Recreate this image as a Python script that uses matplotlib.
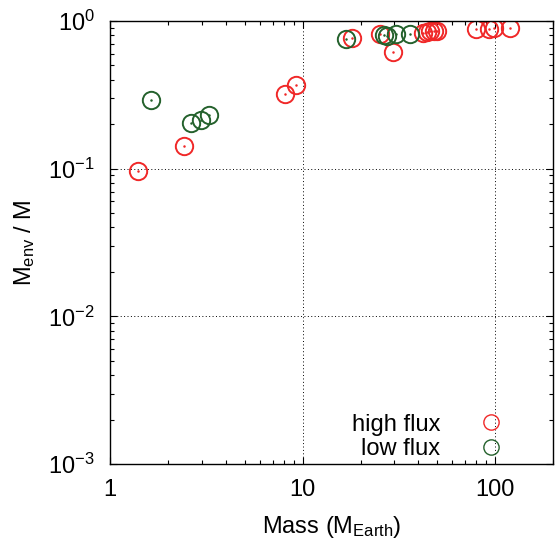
import numpy as np
import matplotlib
matplotlib.use("Agg")
import matplotlib.pyplot as plt
from matplotlib.ticker import LogLocator, FuncFormatter, NullFormatter
from matplotlib.lines import Line2D

plt.rcParams.update({
    "font.family": ["Liberation Sans", "DejaVu Sans"],
    "mathtext.fontset": "custom",
    "mathtext.rm": "Liberation Sans",
    "mathtext.it": "Liberation Sans",
    "font.size": 17,
})

# planet mass (M_Earth) and envelope mass fraction
high_mass = [1.40, 2.41, 8.13, 9.27, 18.0, 25.1, 29.6, 42.4, 44.4, 46.0, 48.3, 50.1,
             79.4, 93.1, 98.9, 119.0]
high_frac = [0.0964, 0.142, 0.319, 0.367, 0.771, 0.817, 0.620, 0.83, 0.845, 0.856,
             0.856, 0.856, 0.879, 0.88, 0.89, 0.90]
low_mass = [1.63, 2.62, 2.95, 3.27, 16.8, 26.4, 27.3, 30.6, 36.3]
low_frac = [0.292, 0.204, 0.213, 0.231, 0.751, 0.81, 0.795, 0.817, 0.82]

RED = "#f02828"
GREEN = "#24612c"

fig = plt.figure(figsize=(5.56, 5.41), dpi=100)
ax = fig.add_axes([0.198, 0.1423, 0.7966, 0.8189])

for m, f, c in [(high_mass, high_frac, RED), (low_mass, low_frac, GREEN)]:
    ax.plot(m, f, ls="none", marker="o", ms=12.5, mfc="none", mec=c, mew=1.4)
    ax.plot(m, f, ls="none", marker="o", ms=1.8, mfc=c, mec=c, mew=0)

ax.set_xscale("log")
ax.set_yscale("log")
ax.set_xlim(1, 200)
ax.set_ylim(1e-3, 1)

ax.xaxis.set_major_formatter(FuncFormatter(lambda v, p: f"{v:g}"))
ax.xaxis.set_minor_formatter(NullFormatter())
ax.yaxis.set_major_locator(LogLocator(base=10, numticks=10))
ax.yaxis.set_minor_locator(LogLocator(base=10, subs=np.arange(2, 10), numticks=10))
ax.yaxis.set_minor_formatter(NullFormatter())

ax.tick_params(which="both", direction="in", top=True, right=True, width=0.8)
ax.tick_params(which="major", length=5, pad=11)
ax.tick_params(which="minor", length=2.8)
for s in ax.spines.values():
    s.set_linewidth(1.0)

for v in [10, 100]:
    ax.axvline(v, color="black", lw=0.7, ls=(0, (1, 2.5)), zorder=0)
for v in [0.1, 0.01]:
    ax.axhline(v, color="black", lw=0.7, ls=(0, (1, 2.5)), zorder=0)

ax.set_xlabel(r"Mass (M$_{\mathrm{Earth}}$)", labelpad=9)
ax.set_ylabel(r"M$_{\mathrm{env}}$ / M", labelpad=8)

handles = [
    Line2D([], [], ls="none", marker="o", ms=11, mfc="none", mec=RED, mew=1.0),
    Line2D([], [], ls="none", marker="o", ms=11, mfc="none", mec=GREEN, mew=1.0),
]
leg = ax.legend(handles, ["high flux", "low flux"], loc="lower right",
                frameon=False, markerfirst=False, handlelength=1.0,
                handletextpad=1.65, labelspacing=0.12,
                bbox_to_anchor=(0.935, -0.04))
for t in leg.get_texts():
    t.set_ha("right")

fig.savefig("out.png", dpi=100)
